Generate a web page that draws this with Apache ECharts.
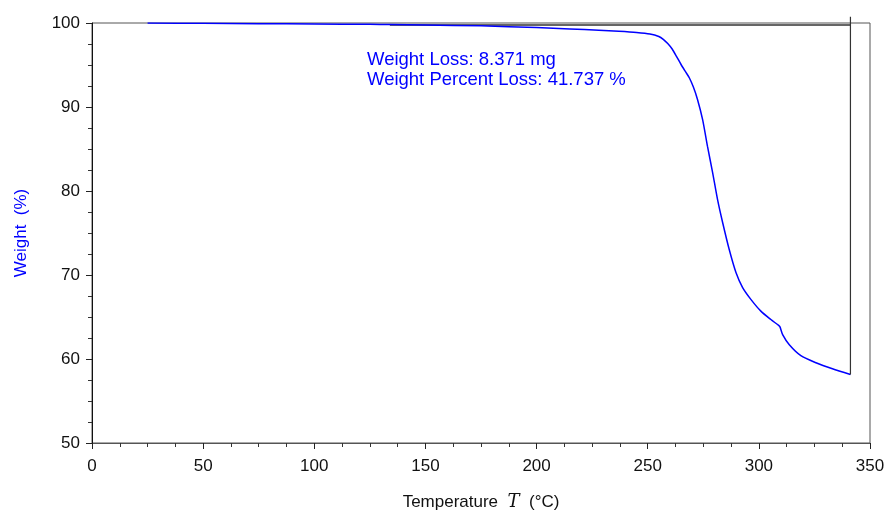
<!DOCTYPE html>
<html>
<head>
<meta charset="utf-8">
<script src="https://cdn.jsdelivr.net/npm/echarts@6/dist/echarts.min.js"></script>
<style>
  html, body { margin: 0; padding: 0; background: #fff; }
  #chart { width: 889px; height: 511px; }
</style>
</head>
<body>
<div id="chart"></div>
<script>
// TGA run: sample weight (%) against temperature (°C)
const temperature = [25, 50, 75, 100, 125, 134, 150, 175, 200, 215,
  228, 237, 245, 251, 255, 257, 259, 261, 263, 265,
  267, 268.7, 270.5, 272.4, 274.7, 276.9, 279.2, 281.4, 283.7, 286.7,
  289.7, 292.7, 296.4, 300.9, 305.4, 308.9, 309.5, 310.7, 313.7, 318.9,
  325.7, 333.1, 341.2];
const weight = [100, 99.96, 99.92, 99.88, 99.84, 99.82, 99.76, 99.66, 99.45, 99.3,
  99.14, 99.02, 98.88, 98.7, 98.4, 98.05, 97.55, 96.9, 96.0, 95.06,
  94.2, 93.48, 92.4, 90.9, 88.5, 85.3, 82.2, 79.0, 76.25, 73.0,
  70.3, 68.5, 67.1, 65.7, 64.7, 64.0, 63.83, 62.9, 61.7, 60.4,
  59.55, 58.83, 58.15];

// Step-analysis construction lines: baseline and end-of-step marker
const baselineT = [134, 341.2];
const baselineW = [99.76, 99.76];
const stepEndT = [341.2, 341.2];
const stepEndW = [100.75, 58.15];

const xTicks = { min: 0, max: 350, interval: 50 };
const yTicks = { min: 50, max: 100, interval: 10 };

const annotation = ['Weight Loss: 8.371 mg', 'Weight Percent Loss: 41.737 %'];

const pairs = (xs, ys) => xs.map((x, i) => [x, ys[i]]);

const chart = echarts.init(document.getElementById('chart'));
const font = '"Liberation Sans", Arial, sans-serif';

chart.setOption({
  animation: false,
  backgroundColor: '#fff',
  grid: {
    left: 92, right: 19, top: 23, bottom: 68,
    outerBoundsMode: 'none',
    containLabel: false,
    show: true, borderColor: '#555', borderWidth: 1
  },
  xAxis: {
    type: 'value',
    min: xTicks.min, max: xTicks.max, interval: xTicks.interval,
    name: '{n|Temperature  }{t|T}{n|  (°C)}',
    nameLocation: 'middle',
    nameGap: 50,
    nameTextStyle: {
      rich: {
        n: { fontFamily: font, fontSize: 17, color: '#111' },
        t: { fontFamily: '"DejaVu Serif", "Liberation Serif", serif', fontStyle: 'italic', fontSize: 18, color: '#111' }
      }
    },
    axisLine: { onZero: false, lineStyle: { color: '#555', width: 1 } },
    axisTick: { show: true, inside: false, length: 6, lineStyle: { color: '#222' } },
    minorTick: { show: true, splitNumber: 4, length: 4, lineStyle: { color: '#333' } },
    axisLabel: { fontFamily: font, fontSize: 17, color: '#111', margin: 15 },
    splitLine: { show: false }
  },
  yAxis: {
    type: 'value',
    min: yTicks.min, max: yTicks.max, interval: yTicks.interval,
    name: 'Weight  (%)',
    nameLocation: 'middle',
    nameGap: 62,
    nameTextStyle: { fontFamily: font, fontSize: 17, color: '#0000ff' },
    axisLine: { show: true, lineStyle: { color: '#111', width: 1 } },
    axisTick: { show: true, inside: false, length: 6, lineStyle: { color: '#222' } },
    minorTick: { show: true, splitNumber: 4, length: 4, lineStyle: { color: '#333' } },
    axisLabel: { fontFamily: font, fontSize: 17, color: '#111', margin: 12 },
    splitLine: { show: false }
  },
  series: [
    {
      type: 'line',
      data: pairs(temperature, weight),
      smooth: 0.25,
      showSymbol: false,
      lineStyle: { color: '#0000ff', width: 1.5 },
      z: 3
    },
    {
      type: 'line',
      data: pairs(baselineT, baselineW),
      showSymbol: false,
      lineStyle: { color: '#333', width: 1.5 },
      z: 2
    },
    {
      type: 'line',
      data: pairs(stepEndT, stepEndW),
      clip: false,
      showSymbol: false,
      lineStyle: { color: '#333', width: 1.2 },
      z: 4
    }
  ],
  graphic: [
    {
      type: 'text',
      left: 367, top: 50,
      style: {
        text: annotation.join('\n'),
        fontFamily: font, fontSize: 18.5, lineHeight: 20,
        fill: '#0000ff'
      }
    }
  ]
});
</script>
</body>
</html>
